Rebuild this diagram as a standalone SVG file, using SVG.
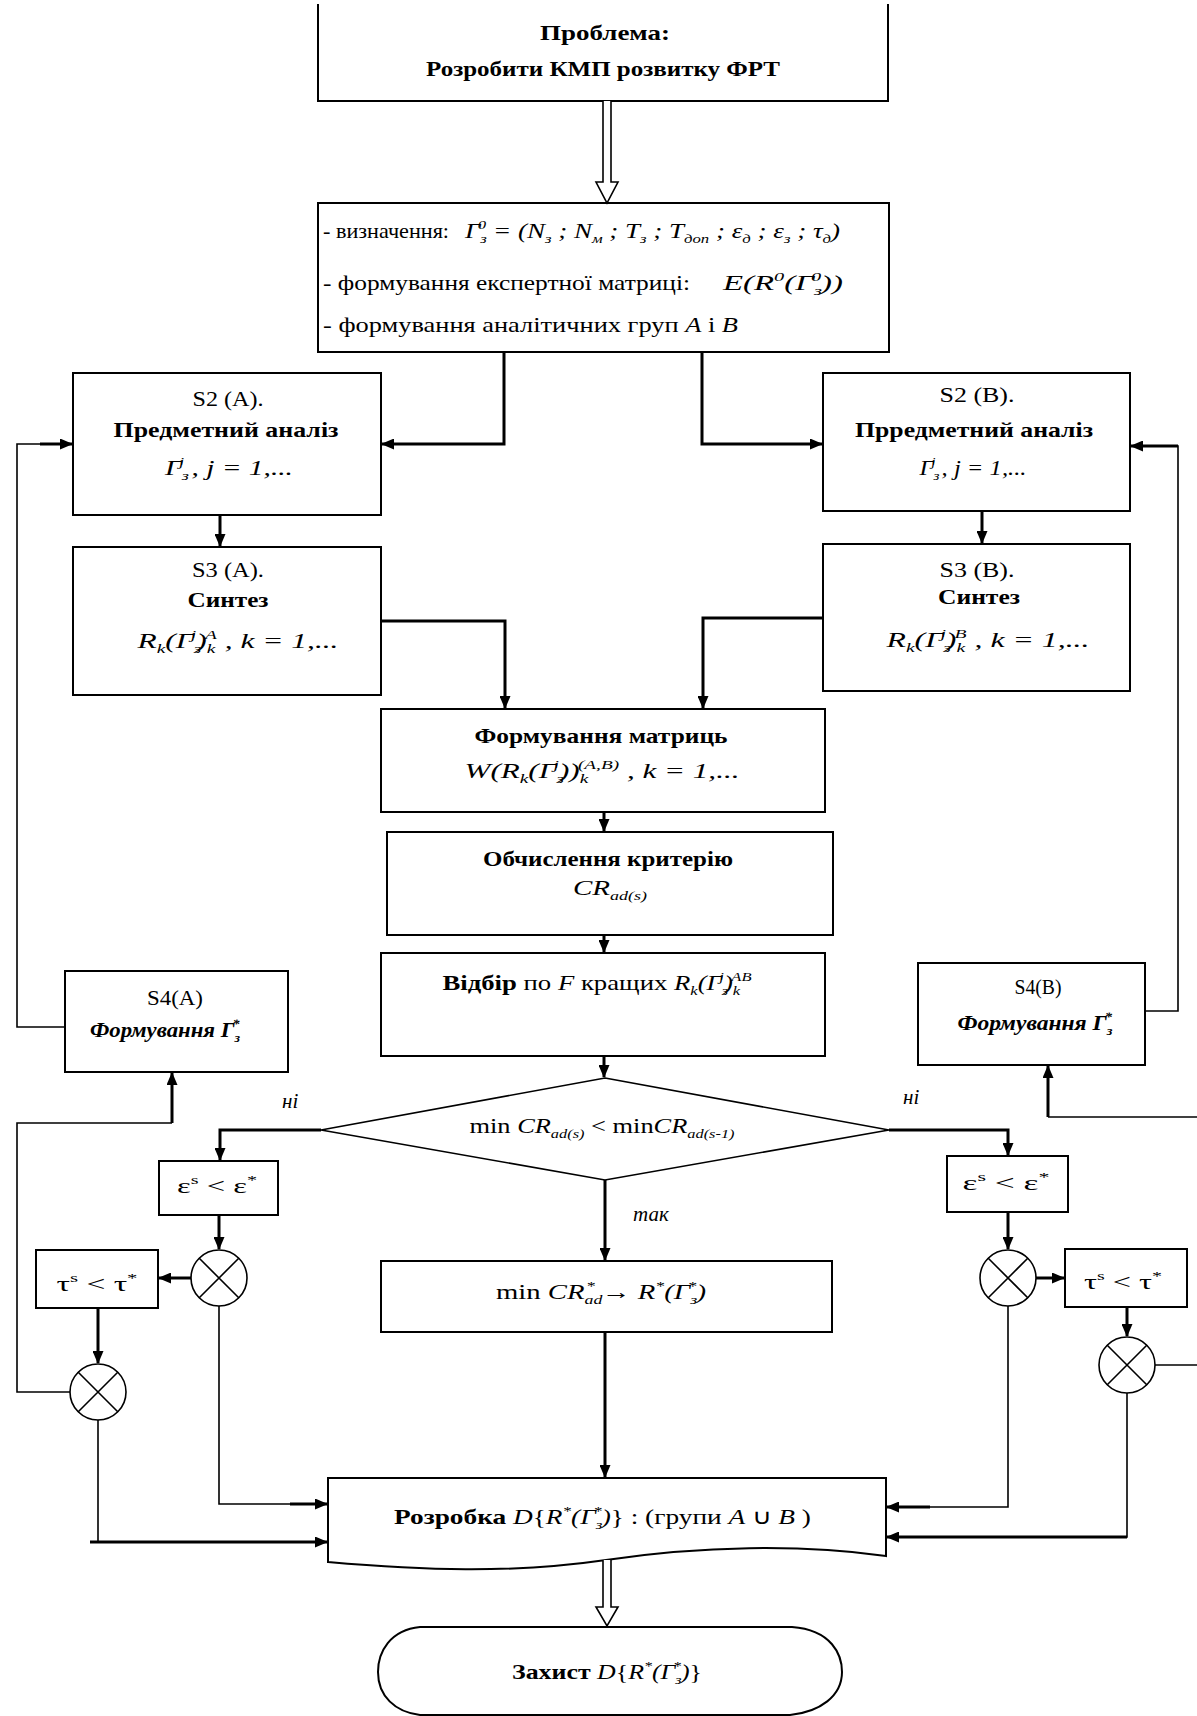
<svg xmlns="http://www.w3.org/2000/svg" width="1197" height="1716" viewBox="0 0 1197 1716">
<style>
text{font-family:"Liberation Serif","Times New Roman",serif;font-size:21px;fill:#000}
.b{font-weight:bold}
.i{font-style:italic}
.c{text-anchor:middle}
.sb{font-size:13px;baseline-shift:-5px}
.sp{font-size:13px;baseline-shift:9px}
.box{fill:#fff;stroke:#000;stroke-width:2}
.thk{fill:none;stroke:#000;stroke-width:3}
.thn{fill:none;stroke:#000;stroke-width:1.6}
.circ{fill:#fff;stroke:#000;stroke-width:1.6}
.dbl{fill:#fff;stroke:#000;stroke-width:1.6}
</style>
<defs>
<marker id="ah" markerUnits="userSpaceOnUse" markerWidth="13" markerHeight="11" refX="12" refY="5.5" orient="auto"><path d="M0,0 L13,5.5 L0,11 z" fill="#000"/></marker>
</defs>

<g id="n-problem">
<path class="box" d="M318,4 V101 H888 V4" fill="none"/>
<text class="b c" x="605" y="40" font-size="22" textLength="130" lengthAdjust="spacingAndGlyphs">Проблема:</text>
<text class="b c" x="603" y="76" font-size="22" textLength="354" lengthAdjust="spacingAndGlyphs">Розробити КМП розвитку ФРТ</text>
</g>

<g id="n-define">
<rect class="box" x="318" y="203" width="571" height="149"/>
<text x="323" y="238" textLength="126" lengthAdjust="spacingAndGlyphs">- визначення:</text>
<text class="i" x="465" y="238" font-size="22" textLength="375" lengthAdjust="spacingAndGlyphs">Γ<tspan class="sb">з</tspan><tspan class="sp" dx="-7">0</tspan> = (N<tspan class="sb">з</tspan> ; N<tspan class="sb">м</tspan> ; T<tspan class="sb">з</tspan> ; T<tspan class="sb">доп</tspan> ; ε<tspan class="sb">д</tspan> ; ε<tspan class="sb">з</tspan> ; τ<tspan class="sb">д</tspan>)</text>
<text x="323" y="290" textLength="367" lengthAdjust="spacingAndGlyphs">- формування експертної матриці:</text>
<text class="i" x="723" y="290" font-size="22" textLength="120" lengthAdjust="spacingAndGlyphs">E(R<tspan class="sp">0</tspan>(Γ<tspan class="sb">з</tspan><tspan class="sp" dx="-7">0</tspan>))</text>
<text x="323" y="332" textLength="415" lengthAdjust="spacingAndGlyphs">- формування аналітичних груп <tspan class="i">A</tspan> і <tspan class="i">B</tspan></text>
</g>

<g id="n-s2a">
<rect class="box" x="73" y="373" width="308" height="142"/>
<text class="c" x="228" y="406" textLength="71" lengthAdjust="spacingAndGlyphs">S2 (A).</text>
<text class="b c" x="226" y="437" font-size="22" textLength="225" lengthAdjust="spacingAndGlyphs">Предметний аналіз</text>
<text class="i c" x="229" y="475" font-size="22" textLength="128" lengthAdjust="spacingAndGlyphs">Γ<tspan class="sb">з</tspan><tspan class="sp" dx="-7">j</tspan> , j = 1,...</text>
</g>

<g id="n-s3a">
<rect class="box" x="73" y="547" width="308" height="148"/>
<text class="c" x="228" y="577" textLength="72" lengthAdjust="spacingAndGlyphs">S3 (A).</text>
<text class="b c" x="228" y="607" font-size="22" textLength="81" lengthAdjust="spacingAndGlyphs">Синтез</text>
<text class="i c" x="238" y="648" font-size="22" textLength="201" lengthAdjust="spacingAndGlyphs">R<tspan class="sb">k</tspan>(Γ<tspan class="sb">з</tspan><tspan class="sp" dx="-7">j</tspan>)<tspan class="sb">k</tspan><tspan class="sp" dx="-7">A</tspan> , k = 1,...</text>
</g>

<g id="n-s2b">
<rect class="box" x="823" y="373" width="307" height="138"/>
<text class="c" x="977" y="402" textLength="75" lengthAdjust="spacingAndGlyphs">S2 (B).</text>
<text class="b c" x="974" y="437" font-size="22" textLength="238" lengthAdjust="spacingAndGlyphs">Прредметний аналіз</text>
<text class="i c" x="973" y="475" font-size="22" textLength="107" lengthAdjust="spacingAndGlyphs">Γ<tspan class="sb">з</tspan><tspan class="sp" dx="-7">j</tspan> , j = 1,...</text>
</g>

<g id="n-s3b">
<rect class="box" x="823" y="544" width="307" height="147"/>
<text class="c" x="977" y="577" textLength="75" lengthAdjust="spacingAndGlyphs">S3 (B).</text>
<text class="b c" x="979" y="604" font-size="22" textLength="82" lengthAdjust="spacingAndGlyphs">Синтез</text>
<text class="i c" x="988" y="647" font-size="22" textLength="203" lengthAdjust="spacingAndGlyphs">R<tspan class="sb">k</tspan>(Γ<tspan class="sb">з</tspan><tspan class="sp" dx="-7">j</tspan>)<tspan class="sb">k</tspan><tspan class="sp" dx="-7">B</tspan> , k = 1,...</text>
</g>

<g id="n-matrix">
<rect class="box" x="381" y="709" width="444" height="103"/>
<text class="b c" x="601" y="743" font-size="22" textLength="253" lengthAdjust="spacingAndGlyphs">Формування матриць</text>
<text class="i c" x="602" y="778" font-size="22" textLength="275" lengthAdjust="spacingAndGlyphs">W(R<tspan class="sb">k</tspan>(Γ<tspan class="sb">з</tspan><tspan class="sp" dx="-7">j</tspan>))<tspan class="sb">k</tspan><tspan class="sp" dx="-7">(A,B)</tspan> , k = 1,...</text>
</g>

<g id="n-criterion">
<rect class="box" x="387" y="832" width="446" height="103"/>
<text class="b c" x="608" y="866" font-size="22" textLength="250" lengthAdjust="spacingAndGlyphs">Обчислення критерію</text>
<text class="i c" x="610" y="895" font-size="22" textLength="74" lengthAdjust="spacingAndGlyphs">CR<tspan class="sb">ad(s)</tspan></text>
</g>

<g id="n-select">
<rect class="box" x="381" y="953" width="444" height="103"/>
<text class="c" x="597" y="990" textLength="309" lengthAdjust="spacingAndGlyphs"><tspan class="b">Відбір</tspan> по <tspan class="i">F</tspan> кращих <tspan class="i">R<tspan class="sb">k</tspan>(Γ<tspan class="sb">з</tspan><tspan class="sp" dx="-7">j</tspan>)<tspan class="sb">k</tspan><tspan class="sp" dx="-7">AB</tspan></tspan></text>
</g>

<g id="n-s4a">
<rect class="box" x="65" y="971" width="223" height="101"/>
<text class="c" x="175" y="1005" textLength="56" lengthAdjust="spacingAndGlyphs">S4(A)</text>
<text class="b i c" x="165" y="1037" textLength="150" lengthAdjust="spacingAndGlyphs">Формування Γ<tspan class="sb">з</tspan><tspan class="sp" dx="-7">*</tspan></text>
</g>

<g id="n-s4b">
<rect class="box" x="918" y="963" width="227" height="102"/>
<text class="c" x="1038" y="994" textLength="47" lengthAdjust="spacingAndGlyphs">S4(B)</text>
<text class="b i c" x="1035" y="1030" textLength="155" lengthAdjust="spacingAndGlyphs">Формування Γ<tspan class="sb">з</tspan><tspan class="sp" dx="-7">*</tspan></text>
</g>

<g id="n-decision">
<polygon class="thn" fill="#fff" points="605,1078 889,1130 605,1180 321,1130"/>
<text class="c" x="602" y="1133" textLength="265" lengthAdjust="spacingAndGlyphs">min <tspan class="i">CR<tspan class="sb">ad(s)</tspan></tspan> &lt; min<tspan class="i">CR<tspan class="sb">ad(s-1)</tspan></tspan></text>
</g>

<g id="n-eps-a">
<rect class="box" x="159" y="1161" width="119" height="54"/>
<text class="c" x="217" y="1193" textLength="80" lengthAdjust="spacingAndGlyphs">ε<tspan class="sp">s</tspan> &lt; ε<tspan class="sp">*</tspan></text>
</g>
<g id="n-tau-a">
<rect class="box" x="36" y="1250" width="122" height="58"/>
<text class="c" x="97" y="1291" textLength="81" lengthAdjust="spacingAndGlyphs">τ<tspan class="sp">s</tspan> &lt; τ<tspan class="sp">*</tspan></text>
</g>
<g id="n-and-a1">
<circle class="circ" cx="219" cy="1278" r="28"/>
<path class="thn" d="M199,1258 L239,1298 M239,1258 L199,1298"/>
</g>
<g id="n-and-a2">
<circle class="circ" cx="98" cy="1392" r="28"/>
<path class="thn" d="M78,1372 L118,1412 M118,1372 L78,1412"/>
</g>

<g id="n-eps-b">
<rect class="box" x="947" y="1156" width="121" height="56"/>
<text class="c" x="1006" y="1190" textLength="87" lengthAdjust="spacingAndGlyphs">ε<tspan class="sp">s</tspan> &lt; ε<tspan class="sp">*</tspan></text>
</g>
<g id="n-tau-b">
<rect class="box" x="1065" y="1249" width="122" height="58"/>
<text class="c" x="1123" y="1289" textLength="78" lengthAdjust="spacingAndGlyphs">τ<tspan class="sp">s</tspan> &lt; τ<tspan class="sp">*</tspan></text>
</g>
<g id="n-and-b1">
<circle class="circ" cx="1008" cy="1278" r="28"/>
<path class="thn" d="M988,1258 L1028,1298 M1028,1258 L988,1298"/>
</g>
<g id="n-and-b2">
<circle class="circ" cx="1127" cy="1365" r="28"/>
<path class="thn" d="M1107,1345 L1147,1385 M1147,1345 L1107,1385"/>
</g>

<g id="n-min">
<rect class="box" x="381" y="1261" width="451" height="71"/>
<text class="c" x="601" y="1299" textLength="210" lengthAdjust="spacingAndGlyphs">min <tspan class="i">CR<tspan class="sb">ad</tspan><tspan class="sp" dx="-12">*</tspan></tspan> → <tspan class="i">R<tspan class="sp">*</tspan>(Γ<tspan class="sb">з</tspan><tspan class="sp" dx="-7">*</tspan>)</tspan></text>
</g>

<g id="n-develop">
<path class="box" d="M328,1478 H886 V1556 C800,1544 700,1546 606,1560 C510,1574 420,1570 328,1562 Z"/>
<text x="394" y="1524" textLength="417" lengthAdjust="spacingAndGlyphs"><tspan class="b">Розробка</tspan>  <tspan class="i">D</tspan>{<tspan class="i">R<tspan class="sp">*</tspan>(Γ<tspan class="sb">з</tspan><tspan class="sp" dx="-7">*</tspan>)</tspan>} : (групи <tspan class="i">A</tspan> ∪ <tspan class="i">B</tspan> )</text>
</g>

<g id="n-defend">
<path class="box" d="M420,1627 H792 C832,1630 842,1655 842,1672 C842,1696 820,1712 790,1715 H420 C395,1712 378,1696 378,1672 C378,1652 390,1630 420,1627 Z"/>
<text x="512" y="1679" textLength="190" lengthAdjust="spacingAndGlyphs"><tspan class="b">Захист</tspan> <tspan class="i">D</tspan>{<tspan class="i">R<tspan class="sp">*</tspan>(Γ<tspan class="sb">з</tspan><tspan class="sp" dx="-7">*</tspan>)</tspan>}</text>
</g>

<g id="connectors">
<path class="dbl" d="M603,101 V182 H596 L607,203 L618,182 H611 V101"/>
<path class="dbl" d="M603,1560 V1607 H596 L607,1626 L618,1607 H611 V1560"/>
<path class="thk" d="M504,352 V444 H382" marker-end="url(#ah)"/>
<path class="thk" d="M702,352 V444 H822" marker-end="url(#ah)"/>
<path class="thk" d="M220,515 V546" marker-end="url(#ah)"/>
<path class="thk" d="M982,511 V543" marker-end="url(#ah)"/>
<path class="thk" d="M382,621 H505 V708" marker-end="url(#ah)"/>
<path class="thk" d="M822,618 H703 V708" marker-end="url(#ah)"/>
<path class="thk" d="M604,812 V831" marker-end="url(#ah)"/>
<path class="thk" d="M604,935 V952" marker-end="url(#ah)"/>
<path class="thk" d="M604,1056 V1077" marker-end="url(#ah)"/>
<path class="thk" d="M321,1130 H220 V1160" marker-end="url(#ah)"/>
<path class="thk" d="M889,1130 H1008 V1155" marker-end="url(#ah)"/>
<path class="thk" d="M219,1215 V1249" marker-end="url(#ah)"/>
<path class="thk" d="M191,1278 H159" marker-end="url(#ah)"/>
<path class="thk" d="M98,1308 V1363" marker-end="url(#ah)"/>
<path class="thn" d="M70,1392 H17 V1123 H172"/>
<path class="thk" d="M172,1123 V1073" marker-end="url(#ah)"/>
<path class="thn" d="M65,1027 H17 V444 H60"/>
<path class="thk" d="M40,444 H72" marker-end="url(#ah)"/>
<path class="thn" d="M219,1306 V1504 H300"/>
<path class="thk" d="M290,1504 H327" marker-end="url(#ah)"/>
<path class="thn" d="M98,1420 V1542 H300"/>
<path class="thk" d="M90,1542 H327" marker-end="url(#ah)"/>
<path class="thk" d="M1008,1212 V1249" marker-end="url(#ah)"/>
<path class="thk" d="M1036,1278 H1064" marker-end="url(#ah)"/>
<path class="thk" d="M1127,1307 V1336" marker-end="url(#ah)"/>
<path class="thn" d="M1155,1365 H1197"/>
<path class="thn" d="M1197,1117 H1048"/>
<path class="thk" d="M1048,1117 V1066" marker-end="url(#ah)"/>
<path class="thn" d="M1145,1011 H1178 V446 H1160"/>
<path class="thk" d="M1178,446 H1131" marker-end="url(#ah)"/>
<path class="thn" d="M1008,1306 V1507 H920"/>
<path class="thk" d="M930,1507 H887" marker-end="url(#ah)"/>
<path class="thn" d="M1127,1393 V1537 H920"/>
<path class="thk" d="M1127,1537 H887" marker-end="url(#ah)"/>
<path class="thk" d="M605,1180 V1260" marker-end="url(#ah)"/>
<path class="thk" d="M605,1332 V1477" marker-end="url(#ah)"/>
<text class="i" x="282" y="1108">ні</text>
<text class="i" x="903" y="1104">ні</text>
<text class="i" x="633" y="1221">так</text>
</g>
</svg>
